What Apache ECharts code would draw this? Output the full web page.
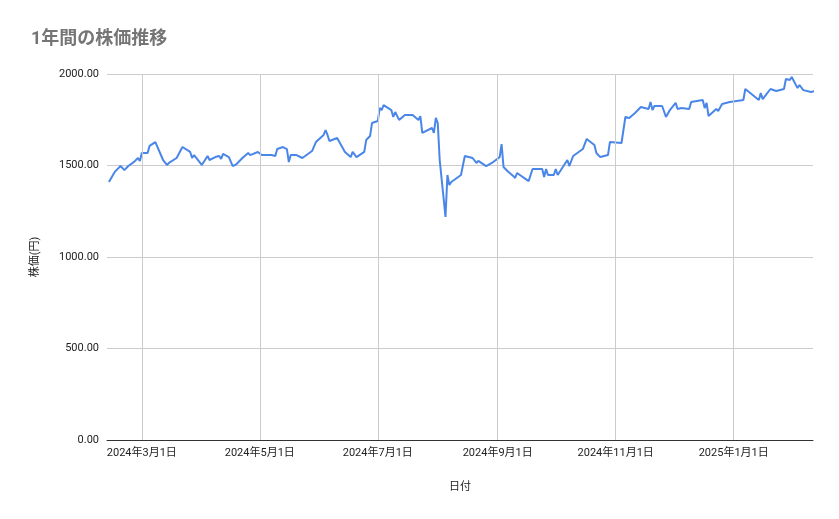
<!DOCTYPE html>
<html>
<head>
<meta charset="utf-8">
<script src="https://cdn.jsdelivr.net/npm/echarts@6/dist/echarts.min.js"></script>
<style>html,body{margin:0;padding:0;background:#fff}#c{width:839px;height:519px}</style>
</head>
<body>
<div id="c"></div>
<script>
// 日付(取引日)
const dates = [
  '2024-02-13','2024-02-14','2024-02-16','2024-02-19','2024-02-21','2024-02-23','2024-02-26','2024-02-28','2024-02-29',
  '2024-03-01','2024-03-04','2024-03-05','2024-03-08','2024-03-12','2024-03-14','2024-03-15','2024-03-19','2024-03-22',
  '2024-03-26','2024-03-27','2024-03-28','2024-04-01','2024-04-02','2024-04-04','2024-04-05','2024-04-08','2024-04-10',
  '2024-04-11','2024-04-12','2024-04-15','2024-04-17','2024-04-19','2024-04-22','2024-04-25','2024-04-26','2024-04-30',
  '2024-05-02','2024-05-07','2024-05-09','2024-05-10','2024-05-13','2024-05-15','2024-05-16','2024-05-17','2024-05-20',
  '2024-05-23','2024-05-28','2024-05-30','2024-05-31','2024-06-03','2024-06-04','2024-06-05','2024-06-06','2024-06-07',
  '2024-06-10','2024-06-14','2024-06-17','2024-06-18','2024-06-20','2024-06-24','2024-06-25','2024-06-27','2024-06-28',
  '2024-07-01','2024-07-02','2024-07-03','2024-07-04','2024-07-08','2024-07-09','2024-07-10','2024-07-11','2024-07-12',
  '2024-07-15','2024-07-17','2024-07-19','2024-07-22','2024-07-23','2024-07-24','2024-07-29','2024-07-30','2024-07-31',
  '2024-08-01','2024-08-02','2024-08-05','2024-08-06','2024-08-07','2024-08-08','2024-08-13','2024-08-15','2024-08-19',
  '2024-08-21','2024-08-22','2024-08-26','2024-08-29','2024-09-02','2024-09-03','2024-09-04','2024-09-06','2024-09-09',
  '2024-09-10','2024-09-11','2024-09-17','2024-09-19','2024-09-24','2024-09-25','2024-09-26','2024-09-27','2024-09-30',
  '2024-10-01','2024-10-02','2024-10-07','2024-10-08','2024-10-10','2024-10-15','2024-10-17','2024-10-21','2024-10-22',
  '2024-10-24','2024-10-28','2024-10-29','2024-10-30','2024-11-04','2024-11-06','2024-11-08','2024-11-11','2024-11-12',
  '2024-11-14','2024-11-18','2024-11-19','2024-11-20','2024-11-21','2024-11-25','2024-11-27','2024-11-29','2024-12-02',
  '2024-12-03','2024-12-05','2024-12-09','2024-12-10','2024-12-16','2024-12-17','2024-12-18','2024-12-19','2024-12-23',
  '2024-12-24','2024-12-26','2024-12-30','2025-01-06','2025-01-07','2025-01-08','2025-01-14','2025-01-15','2025-01-16',
  '2025-01-20','2025-01-23','2025-01-27','2025-01-28','2025-01-30','2025-01-31','2025-02-03','2025-02-04','2025-02-06',
  '2025-02-10','2025-02-12'
];
// 株価(円)
const prices = [
  1410,1405,1465,1497,1475,1497,1520,1541,1525,
  1568,1568,1607,1628,1530,1503,1514,1541,1601,
  1574,1541,1557,1503,1497,1552,1530,1546,1552,
  1536,1563,1546,1497,1508,1541,1568,1557,1574,
  1557,1557,1552,1590,1601,1590,1519,1557,1557,
  1541,1579,1628,1623,1667,1694,1667,1634,1634,
  1650,1574,1546,1574,1546,1574,1639,1661,1732,
  1743,1814,1803,1830,1803,1765,1792,1792,1749,
  1776,1776,1776,1749,1770,1678,1705,1678,1760,
  1732,1530,1219,1448,1393,1410,1448,1552,1541,
  1514,1525,1497,1514,1546,1617,1492,1470,1443,
  1432,1459,1415,1481,1481,1437,1481,1448,1448,
  1481,1448,1530,1497,1552,1590,1645,1612,1568,
  1546,1557,1628,1623,1623,1765,1760,1787,1781,
  1820,1809,1847,1803,1825,1825,1765,1803,1842,
  1809,1814,1809,1847,1858,1814,1842,1770,1809,
  1798,1836,1847,1858,1918,1918,1858,1896,1863,
  1918,1907,1918,1973,1967,1984,1923,1940,1912,
  1902,1907
];
// 目盛り
const tickDates = ['2024-03-01','2024-05-01','2024-07-01','2024-09-01','2024-11-01','2025-01-01'];
const tickLabels = ['2024年3月1日','2024年5月1日','2024年7月1日','2024年9月1日','2024年11月1日','2025年1月1日'];

const ts = s => Date.UTC(+s.slice(0, 4), +s.slice(5, 7) - 1, +s.slice(8, 10));
const tickTs = tickDates.map(ts);
const font = '"Roboto","Noto Sans CJK JP",sans-serif';

const chart = echarts.init(document.getElementById('c'));
chart.setOption({
  animation: false,
  textStyle: { fontFamily: font },
  title: {
    text: '1年間の株価推移', left: 26, top: 26,
    textStyle: { fontSize: 18, fontWeight: 'bold', color: '#757575', fontFamily: font }
  },
  grid: { left: 107, right: 26, top: 74, bottom: 79 },
  xAxis: {
    type: 'value',
    min: ts('2024-02-12'), max: ts('2025-02-11'),
    name: '日付', nameLocation: 'middle', nameGap: 42,
    nameTextStyle: { fontSize: 11, color: '#222' },
    axisLine: { lineStyle: { color: '#333' } },
    axisTick: { show: false },
    splitLine: { show: false },
    axisLabel: {
      customValues: tickTs, fontSize: 11, color: '#222', margin: 8,
      formatter: v => { const i = tickTs.indexOf(v); return i >= 0 ? tickLabels[i] : ''; }
    }
  },
  yAxis: {
    type: 'value', min: 0, max: 2000, interval: 500,
    name: '株価(円)', nameLocation: 'middle', nameGap: 66,
    nameTextStyle: { fontSize: 11, color: '#222' },
    axisLine: { show: false }, axisTick: { show: false },
    splitLine: { lineStyle: { color: '#cccccc' } },
    axisLabel: { fontSize: 11, color: '#222', formatter: v => v.toFixed(2) }
  },
  series: [{
    type: 'line',
    data: dates.map((d, i) => [ts(d), prices[i]]),
    showSymbol: false,
    lineStyle: { color: '#4a86e8', width: 2 },
    itemStyle: { color: '#4a86e8' },
    markLine: {
      silent: true, symbol: 'none', label: { show: false },
      lineStyle: { color: '#cccccc', type: 'solid', width: 1 },
      data: tickTs.map(t => ({ xAxis: t }))
    }
  }]
});
</script>
</body>
</html>
